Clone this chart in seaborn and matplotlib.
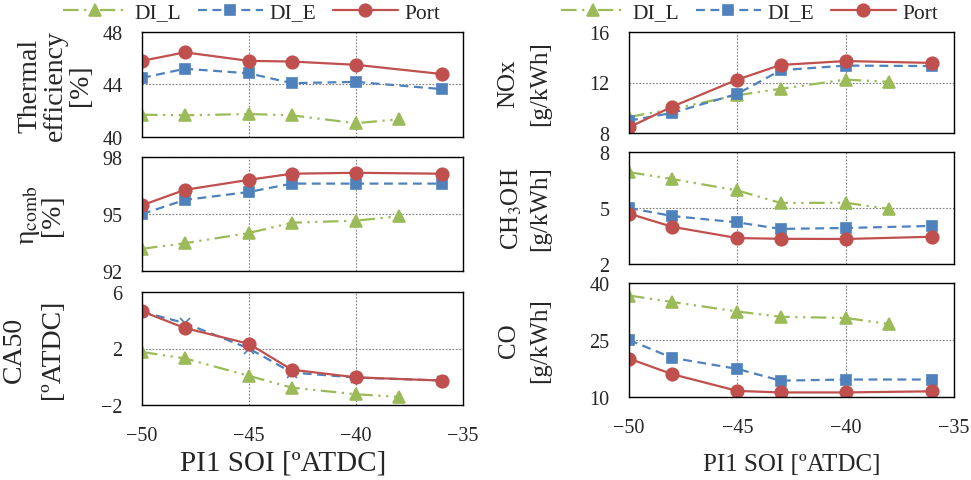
import matplotlib
matplotlib.use("Agg")
import matplotlib.pyplot as plt
import seaborn as sns

# injection timing (x) for each strategy
soi_di_l = [-50, -48, -45, -43, -40, -38]
soi_di_e = [-50, -48, -45, -43, -40, -36]
soi_port = [-50, -48, -45, -43, -40, -36]

# thermal efficiency [%]
te_di_l = [41.7, 41.65, 41.75, 41.65, 41.05, 41.35]
te_di_e = [44.5, 45.2, 44.85, 44.1, 44.2, 43.65]
te_port = [45.8, 46.45, 45.8, 45.75, 45.5, 44.8]

# combustion efficiency [%]
eta_di_l = [93.17, 93.46, 94.0, 94.54, 94.65, 94.88]
eta_di_e = [95.0, 95.74, 96.16, 96.6, 96.6, 96.6]
eta_port = [95.46, 96.27, 96.8, 97.12, 97.17, 97.12]

# CA50 [deg ATDC]
ca50_di_l = [1.75, 1.3, 0.06, -0.77, -1.24, -1.43]
ca50_di_e = [4.6, 3.8, 2.0, 0.3, -0.06, -0.27]
ca50_port = [4.63, 3.45, 2.33, 0.5, -0.04, -0.27]

# NOx [g/kWh]
nox_di_l = [9.27, 9.9, 10.99, 11.5, 12.23, 12.05]
nox_di_e = [8.98, 9.59, 11.1, 12.97, 13.34, 13.3]
nox_port = [8.45, 10.09, 12.23, 13.39, 13.7, 13.55]

# CH3OH [g/kWh]
meoh_di_l = [6.92, 6.55, 5.94, 5.27, 5.28, 4.95]
meoh_di_e = [5.0, 4.57, 4.23, 3.88, 3.93, 4.04]
meoh_port = [4.7, 3.99, 3.39, 3.35, 3.34, 3.46]

# CO [g/kWh]
co_di_l = [36.7, 35.0, 32.5, 31.1, 30.8, 29.2]
co_di_e = [25.0, 20.3, 17.4, 14.3, 14.6, 14.6]
co_port = [20.1, 16.0, 11.6, 11.2, 11.2, 11.5]

series_names = ["DI_L", "DI_E", "Port"]

sns.set_style("white")
plt.rcParams["font.family"] = ["Liberation Serif", "DejaVu Serif"]
plt.rcParams["mathtext.fontset"] = "stix"

STYLES = {
    "DI_L": dict(color="#9BBB59", marker="^", markersize=8, linestyle=(0, (7, 2.5, 1, 2.5, 1, 2.5))),
    "DI_E": dict(color="#4F81BD", marker="s", markersize=7, linestyle=(0, (4, 2.5))),
    "Port": dict(color="#C0504D", marker="o", markersize=9, linestyle="-"),
}

W, H = 971, 481


def px_box(left, top, right, bottom):
    return [left / W, 1 - bottom / H, (right - left) / W, (bottom - top) / H]


panels = [
    # box, ylabel, yticks, data, label x, label size, line spacing, x label (size, x, y) or None
    ((142, 33, 463, 138), "Thermal\nefficiency\n[%]", [40, 44, 48],
     (te_di_l, te_di_e, te_port), -0.153, 20, 1.0, None),
    ((142, 158, 463, 272), "η$_{\\mathrm{comb}}$\n[%]", [92, 95, 98],
     (eta_di_l, eta_di_e, eta_port), -0.24, 20, 0.9, None),
    ((142, 293, 463, 406), "CA50\n[ºATDC]", [-2, 2, 6],
     (ca50_di_l, ca50_di_e, ca50_port), -0.24, 20, 1.7, (21, 0.44, -0.39)),
    ((629, 33, 954, 134), "NOx\n[g/kWh]", [8, 12, 16],
     (nox_di_l, nox_di_e, nox_port), -0.24, 18, 1.55, None),
    ((629, 153, 954, 265), "CH$_3$OH\n[g/kWh]", [2, 5, 8],
     (meoh_di_l, meoh_di_e, meoh_port), -0.24, 18, 1.3, None),
    ((629, 284, 954, 398), "CO\n[g/kWh]", [10, 25, 40],
     (co_di_l, co_di_e, co_port), -0.24, 18, 1.55, (18, 0.5, -0.49)),
]

fig = plt.figure(figsize=(W / 100, H / 100), dpi=100)
axes = []
for box, ylabel, yticks, data, lab_x, lab_size, lab_ls, xlab in panels:
    ax = fig.add_axes(px_box(*box))
    for name, xs, ys in zip(series_names, (soi_di_l, soi_di_e, soi_port), data):
        st = dict(STYLES[name])
        if name == "DI_E" and ylabel.startswith("CA50"):
            st.update(marker="x", markersize=7)
        sns.lineplot(x=xs, y=ys, ax=ax, label=name, legend=False, errorbar=None,
                     sort=False, linewidth=1.6, markeredgewidth=1.2,
                     markeredgecolor=st["color"], **st)
    ax.set_xlim(-50, -35)
    ax.set_xticks([-50, -45, -40, -35])
    ax.set_ylim(yticks[0], yticks[-1])
    ax.set_yticks(yticks)
    ax.grid(True, color="#7f7f7f", linestyle=(0, (1.5, 1.5)), linewidth=0.8)
    ax.tick_params(length=0, labelsize=14.5)
    ax.tick_params(axis="y", pad=14)
    ax.tick_params(axis="x", pad=15)
    for sp in ax.spines.values():
        sp.set_color("black")
        sp.set_linewidth(1.0)
    ax.set_ylabel(ylabel, fontsize=lab_size, linespacing=lab_ls)
    ax.yaxis.set_label_coords(lab_x, 0.5)
    if xlab is not None:
        ax.set_xlabel("PI1 SOI [ºATDC]", fontsize=xlab[0])
        ax.xaxis.set_label_coords(xlab[1], xlab[2])
    else:
        ax.set_xticklabels([])
        ax.set_xlabel("")
    axes.append(ax)

handles, labels = axes[0].get_legend_handles_labels()
for cx in (0.259, 0.772):
    fig.legend(handles, labels, loc="center", bbox_to_anchor=(cx, 0.972), ncol=3,
               frameon=False, fontsize=15.5, handlelength=3.0, columnspacing=0.8,
               handletextpad=0.3, borderaxespad=0)

fig.savefig("out.png", dpi=100)
